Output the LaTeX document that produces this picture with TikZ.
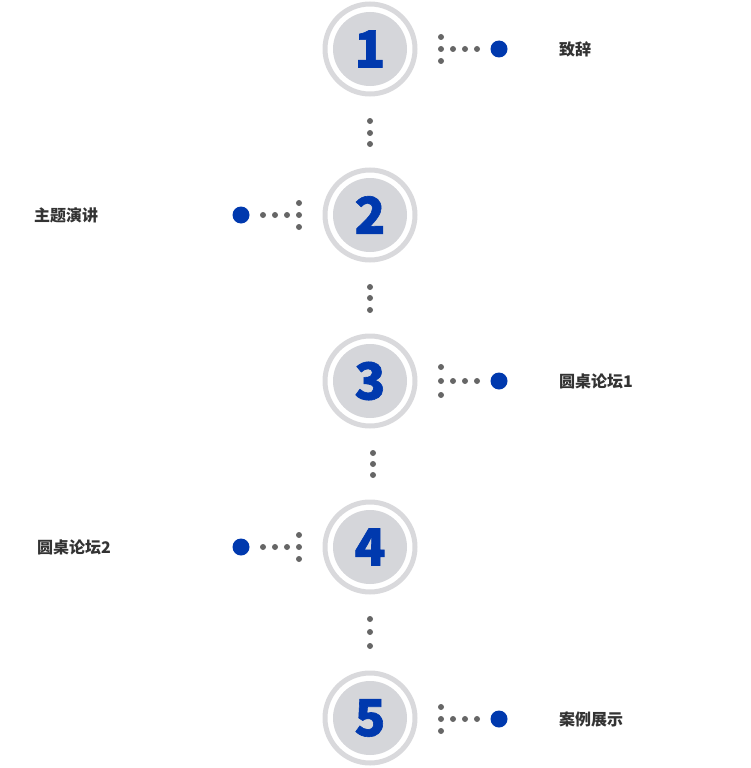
\documentclass[tikz,border=0pt]{standalone}
\usepackage{fontspec}
\newfontfamily\cjk{Noto Sans CJK SC}
\newfontfamily\numfont{Noto Sans CJK SC}[BoldFeatures={FakeBold=1.2}]
\definecolor{ringgray}{HTML}{D9D9DC}
\definecolor{diskgray}{HTML}{D5D6DA}
\definecolor{numblue}{HTML}{0039AE}
\definecolor{dotgray}{HTML}{666666}
\definecolor{txt}{HTML}{333333}
\tikzset{
  ring/.style={circle, draw=ringgray, line width=5pt, fill=white, minimum size=90pt, inner sep=0pt},
  disk/.style={circle, fill=diskgray, minimum size=74pt, inner sep=0pt, text=numblue, font=\numfont\bfseries\fontsize{51}{51}\selectfont},
  bigdot/.style={circle, fill=numblue, minimum size=17pt, inner sep=0pt},
  smalldot/.style={circle, fill=dotgray, minimum size=6pt, inner sep=0pt},
  label/.style={anchor=west, inner sep=0pt, text=txt, font=\cjk\bfseries\fontsize{16}{16}\selectfont}
}
\begin{document}
\begin{tikzpicture}[x=1pt,y=-1pt]
\useasboundingbox (0,0) rectangle (750,768);
% circles
\foreach \i/\y in {1/49,2/215,3/381,4/547,5/718}{
  \node[ring] (r\i) at (370,\y) {};
  \node[disk] (c\i) at (370,\y) {\raisebox{-1pt}{\i}};
}
% vertical dots between circles
\foreach \x/\a/\b/\c in {370/121/133/144, 370/287/298/310, 373/453/464/475, 370/619/632/646}{
  \node[smalldot] at (\x,\a) {};
  \node[smalldot] at (\x,\b) {};
  \node[smalldot] at (\x,\c) {};
}
% right side items
\foreach \i/\y/\d/\t in {1/49/12/致辞, 3/381/14/圆桌论坛1, 5/719/12/案例展示}{
  \node[smalldot] (v\i a) at (441,\y-\d) {};
  \node[smalldot] (v\i b) at (441,\y) {};
  \node[smalldot] (v\i c) at (441,\y+\d) {};
  \node[smalldot] at (453,\y) {};
  \node[smalldot] at (465,\y) {};
  \node[smalldot] at (477,\y) {};
  \node[bigdot] (b\i) at (499,\y) {};
  \node[label] (t\i) at (559,\y) {\t};
}
% left side items
\foreach \i/\y/\tx/\t in {2/215/34/主题演讲, 4/547/37/圆桌论坛2}{
  \node[smalldot] (v\i a) at (299,\y-12) {};
  \node[smalldot] (v\i b) at (299,\y) {};
  \node[smalldot] (v\i c) at (299,\y+12) {};
  \node[smalldot] at (287,\y) {};
  \node[smalldot] at (275,\y) {};
  \node[smalldot] at (263,\y) {};
  \node[bigdot] (b\i) at (241,\y) {};
  \node[label] (t\i) at (\tx,\y) {\t};
}
\end{tikzpicture}
\end{document}
